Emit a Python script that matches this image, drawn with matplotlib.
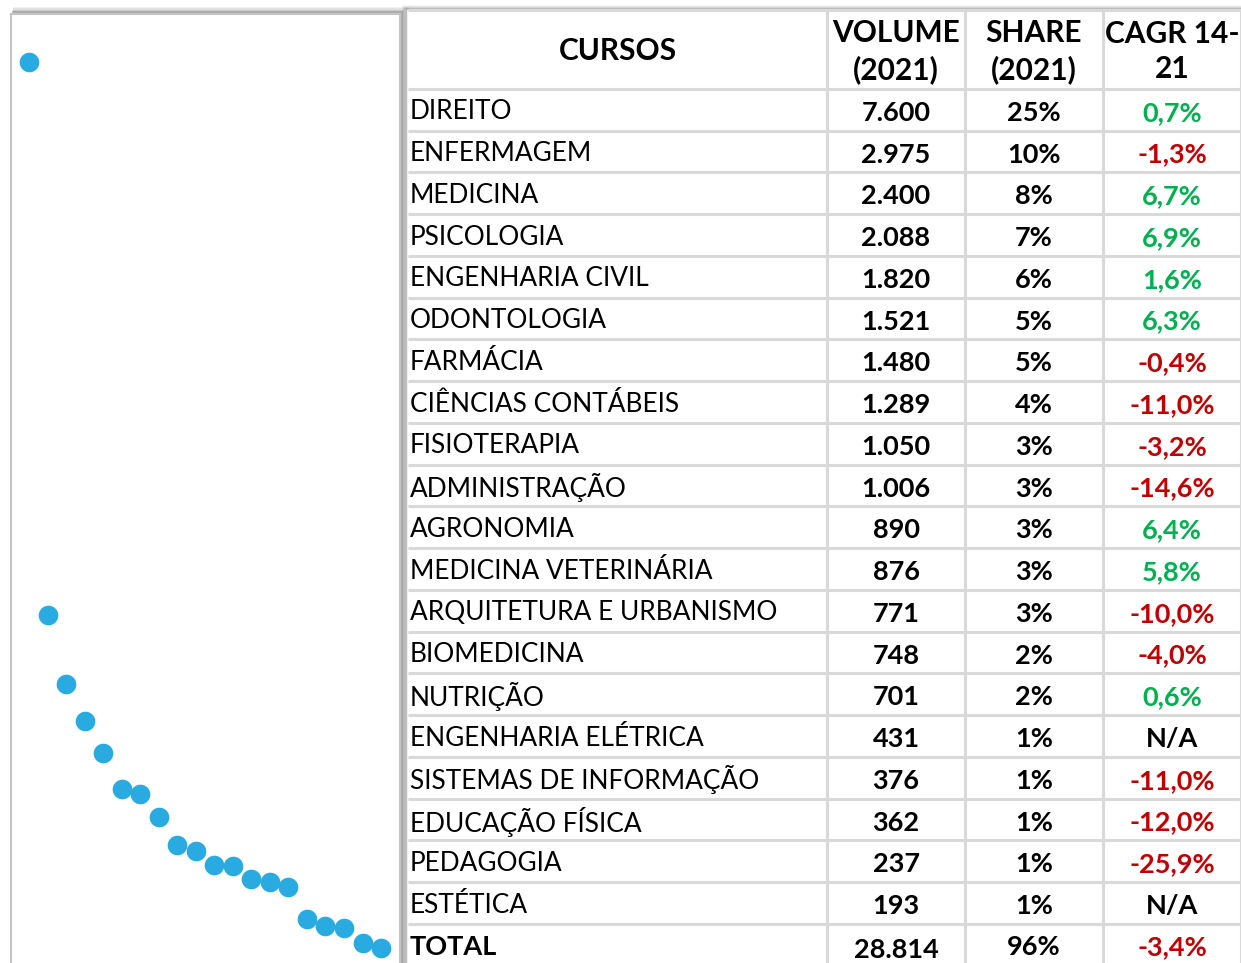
import numpy as np
import matplotlib.pyplot as plt
from matplotlib.patches import Rectangle

plt.rcParams["font.family"] = ["Lato", "DejaVu Sans"]

# Data
cursos = [
    "DIREITO", "ENFERMAGEM", "MEDICINA", "PSICOLOGIA", "ENGENHARIA CIVIL",
    "ODONTOLOGIA", "FARMÁCIA", "CIÊNCIAS CONTÁBEIS", "FISIOTERAPIA",
    "ADMINISTRAÇÃO", "AGRONOMIA", "MEDICINA VETERINÁRIA",
    "ARQUITETURA E URBANISMO", "BIOMEDICINA", "NUTRIÇÃO",
    "ENGENHARIA ELÉTRICA", "SISTEMAS DE INFORMAÇÃO", "EDUCAÇÃO FÍSICA",
    "PEDAGOGIA", "ESTÉTICA",
]
volume = [7600, 2975, 2400, 2088, 1820, 1521, 1480, 1289, 1050, 1006,
          890, 876, 771, 748, 701, 431, 376, 362, 237, 193]
share = [25, 10, 8, 7, 6, 5, 5, 4, 3, 3, 3, 3, 3, 2, 2, 1, 1, 1, 1, 1]
cagr = [0.7, -1.3, 6.7, 6.9, 1.6, 6.3, -0.4, -11.0, -3.2, -14.6,
        6.4, 5.8, -10.0, -4.0, 0.6, None, -11.0, -12.0, -25.9, None]
total_volume = 28814
total_share = 96
total_cagr = -3.4
headers = ["CURSOS", "VOLUME\n(2021)", "SHARE\n(2021)", "CAGR 14-\n21"]

W, H = 1241, 963
fig = plt.figure(figsize=(W / 100, H / 100), dpi=100)

# background layer in pixel coordinates
bg = fig.add_axes([0, 0, 1, 1])
bg.set_xlim(0, W)
bg.set_ylim(H, 0)
bg.axis("off")

# soft shadows
for k, a in enumerate([0.05, 0.07, 0.1, 0.14]):
    off = 7 - k * 1.5
    bg.add_patch(Rectangle((11 + off * 0.3, 14 - off), 389 + off, 960,
                           facecolor="k", alpha=a, lw=0))
    bg.add_patch(Rectangle((406 - off * 0.6, 10 - off * 0.7), 840, 960,
                           facecolor="k", alpha=a * 0.8, lw=0))
bg.add_patch(Rectangle((11, 14), 389, 960, facecolor="white",
                       edgecolor="#c4c4c4", lw=1.5))
bg.add_patch(Rectangle((407, 10), 840, 960, facecolor="white", lw=0))

# scatter panel
ax = fig.add_axes([11 / W, 0, 389 / W, (H - 14) / H])
x = np.arange(len(volume))
ax.scatter(x, volume, s=200, color="#29abe2", linewidths=0, zorder=3)
ax.set_xlim(-0.97, 20.02)
ax.set_ylim(67, 8002)
ax.axis("off")

# table
col_edges = [408, 827, 965, 1103, 1241]
header_top, header_bot = 10, 89
row_h = 41.75
n = len(cursos)
grid = "#d9d9d9"

tb = fig.add_axes([0, 0, 1, 1])
tb.set_xlim(0, W)
tb.set_ylim(H, 0)
tb.axis("off")

ys = [header_bot + i * row_h for i in range(n + 1)]
for y in [header_top] + ys:
    tb.plot([col_edges[0], W], [y, y], color=grid, lw=2.2, solid_capstyle="butt")
for xe in col_edges[1:]:
    tb.plot([xe, xe], [header_top, H], color=grid, lw=2.2, solid_capstyle="butt")
tb.plot([405, 405], [header_top, H], color="#bdbdbd", lw=2.5)

centers = [(a + b) / 2 for a, b in zip(col_edges[:-1], col_edges[1:])]
fs_name = 18.9
fs_val = 19.5
fs_head = 21.5

hy = (header_top + header_bot) / 2 + 2
for i, h in enumerate(headers):
    tb.text(centers[i], hy, h, ha="center", va="center", fontsize=fs_head,
            fontweight="bold", linespacing=1.33)


def fmt_vol(v):
    return f"{v:,}".replace(",", ".")


def fmt_cagr(c):
    if c is None:
        return "N/A", "black"
    return f"{c:.1f}%".replace(".", ","), "#00b050" if c > 0 else "#c00000"


for i in range(n):
    yc = ys[i] + row_h / 2 + 3
    tb.text(410, yc - 1, cursos[i], ha="left", va="center", fontsize=fs_name)
    tb.text(centers[1], yc, fmt_vol(volume[i]), ha="center", va="center",
            fontsize=fs_val, fontweight="bold")
    tb.text(centers[2], yc, f"{share[i]}%", ha="center", va="center",
            fontsize=fs_val, fontweight="bold")
    txt, col = fmt_cagr(cagr[i])
    tb.text(centers[3], yc, txt, ha="center", va="center", fontsize=fs_val,
            fontweight="bold", color=col)

yt = ys[n] + 23
tb.text(410, yt, "TOTAL", ha="left", va="center", fontsize=fs_val,
        fontweight="bold")
tb.text(centers[1], yt + 3, fmt_vol(total_volume), ha="center", va="center",
        fontsize=fs_val, fontweight="bold")
tb.text(centers[2], yt, f"{total_share}%", ha="center", va="center",
        fontsize=fs_val, fontweight="bold")
txt, col = fmt_cagr(total_cagr)
tb.text(centers[3], yt, txt, ha="center", va="center", fontsize=fs_val,
        fontweight="bold", color=col)

fig.savefig("out.png", dpi=100)
